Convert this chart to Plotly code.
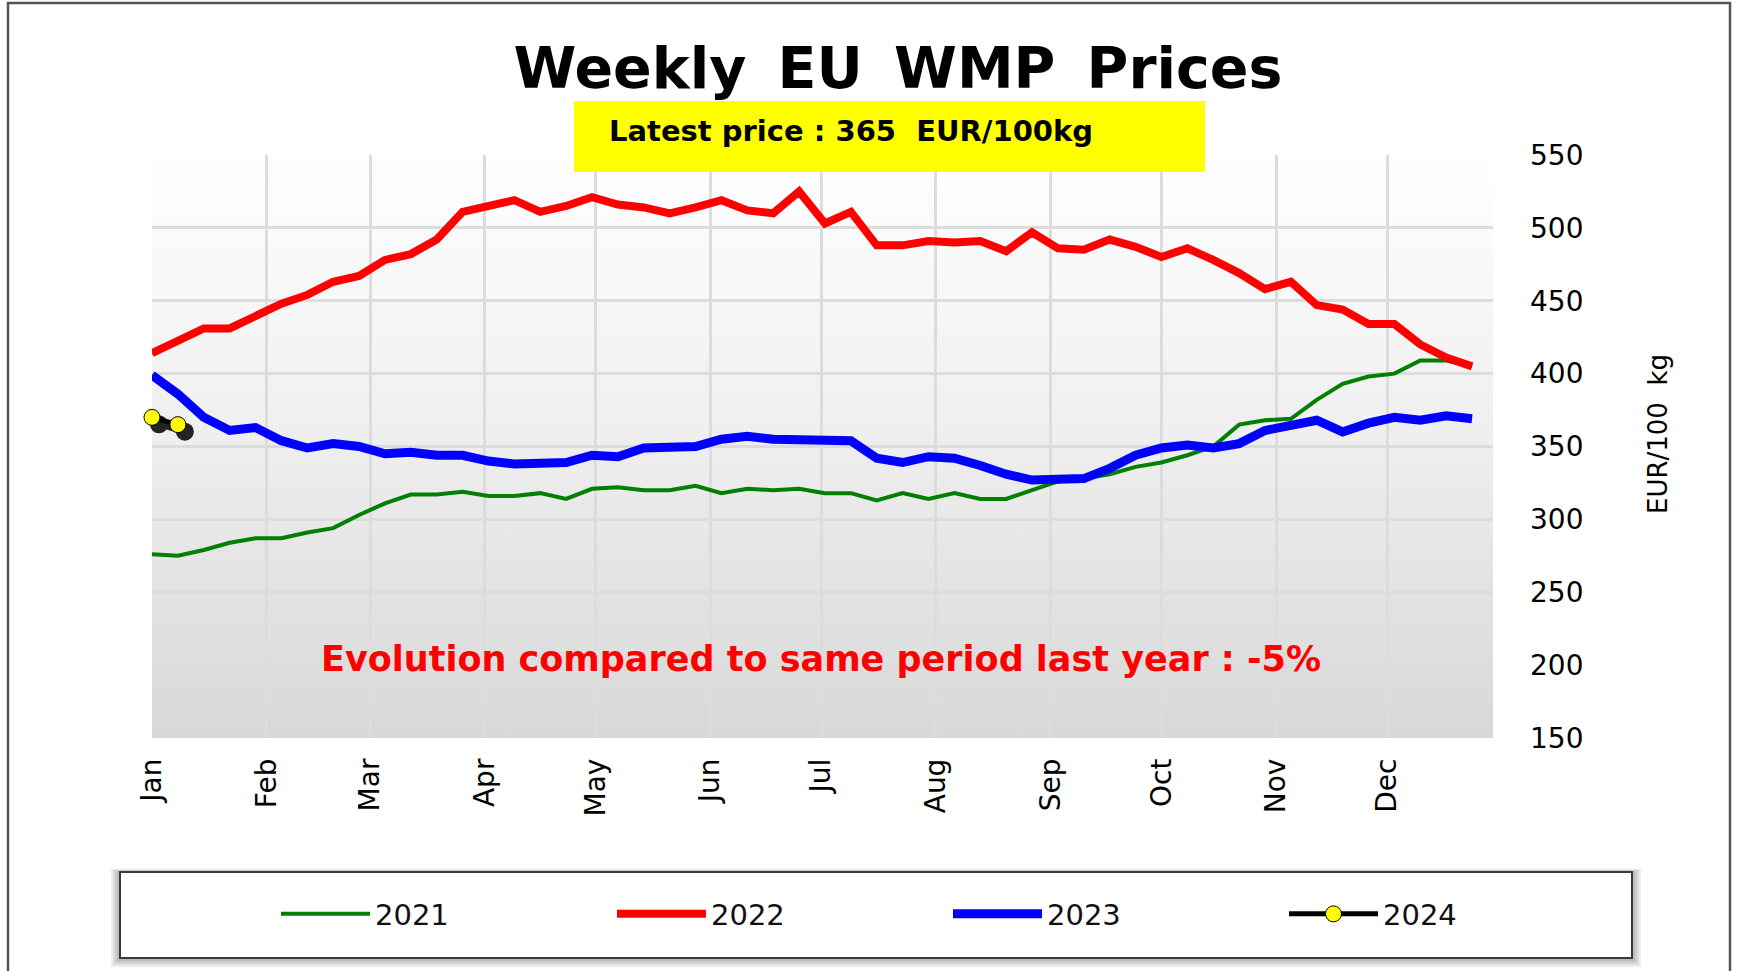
import base64
import pandas as pd
import plotly.graph_objects as go

# ---------------- data ----------------
month_labels = ["Jan", "Feb", "Mar", "Apr", "May", "Jun",
                "Jul", "Aug", "Sep", "Oct", "Nov", "Dec"]
first_week = "2023-01-01"
n_weeks = 52

prices_2021 = [276, 275, 279, 284, 287, 287, 291, 294, 303, 311, 317, 317, 319, 316,
               316, 318, 314, 321, 322, 320, 320, 323, 318, 321, 320, 321, 318,
               318, 313, 318, 314, 318, 314, 314, 320, 326, 328, 331, 336, 339, 344,
               350, 365, 368, 369, 382, 393, 398, 400, 409, 409, 405]
prices_2022 = [414, 423, 431, 431, 440, 448, 454, 463, 467, 478, 482, 492, 511, 515,
               519, 511, 515, 521, 516, 514, 510, 514, 519, 512, 510, 525, 503,
               511, 488, 488, 491, 490, 491, 484, 497, 486, 485, 492, 487, 480, 486,
               478, 469, 458, 463, 447, 444, 434, 434, 420, 411, 405]
prices_2023 = [399, 386, 370, 361, 363, 354, 349, 352, 350, 345, 346, 344, 344, 340,
               338, 338, 339, 344, 343, 349, 350, 350, 355, 357, 355, 355, 354,
               354, 342, 339, 343, 342, 337, 331, 327, 327, 328, 335, 344, 349, 351,
               349, 352, 361, 365, 368, 360, 366, 370, 368, 371, 369]
prices_2024 = [370, 365]

title_text = "Weekly\u2009 EU\u2009 WMP\u2009 Prices"
latest_text = "Latest price : 365\u00a0\u00a0EUR/100kg"
evolution_text = "Evolution compared to same period last year : -5%"
y_title = "EUR/100\u00a0\u00a0kg"

weeks = pd.date_range(first_week, periods=n_weeks, freq="7D")

# ---------------- geometry (pixels) ----------------
W, H = 1737, 971
L, R, T, B = 152, 244, 155, 233
plot_w = W - L - R
plot_h = H - T - B
px_per_day = 3.6976
y_min, y_max = 150, 550
px_per_unit = plot_h / (y_max - y_min)

x_start = pd.Timestamp(first_week)
x_end = x_start + pd.Timedelta(days=plot_w / px_per_day)


def fmt(ts):
    return ts.strftime("%Y-%m-%d %H:%M:%S")


def xp(px):
    return (px - L) / plot_w


def yp(py):
    return (H - B - py) / plot_h


# shadow offsets for the 2024 markers
sh_dx, sh_dy = 7, 7
sh_days = pd.Timedelta(days=sh_dx / px_per_day)
sh_units = sh_dy / px_per_unit

fig = go.Figure()

fig.add_trace(go.Scatter(x=weeks, y=prices_2021, name="2021", mode="lines",
                         line=dict(color="#008000", width=4)))
fig.add_trace(go.Scatter(x=weeks, y=prices_2022, name="2022", mode="lines",
                         line=dict(color="#ff0000", width=8)))
fig.add_trace(go.Scatter(x=weeks, y=prices_2023, name="2023", mode="lines",
                         line=dict(color="#0000ff", width=9)))
# shadow of 2024 (same data, offset axes)
fig.add_trace(go.Scatter(x=weeks[:len(prices_2024)], y=prices_2024, name="2024 shadow",
                         mode="lines+markers", showlegend=False, hoverinfo="skip",
                         xaxis="x2", yaxis="y2", opacity=0.85, cliponaxis=False,
                         line=dict(color="#000000", width=6),
                         marker=dict(color="#000000", size=18,
                                     line=dict(color="#000000", width=0))))
fig.add_trace(go.Scatter(x=weeks[:len(prices_2024)], y=prices_2024, name="2024",
                         mode="lines+markers", xaxis="x3", yaxis="y3", cliponaxis=False,
                         line=dict(color="#000000", width=5),
                         marker=dict(color="#ffff00", size=16,
                                     line=dict(color="#000000", width=1))))

grid = "#dcdcdc"
fig.update_layout(
    width=W, height=H,
    margin=dict(l=L, r=R, t=T, b=B, pad=0),
    paper_bgcolor="#ffffff",
    plot_bgcolor="rgba(0,0,0,0)",
    font=dict(family="DejaVu Sans", color="#000000"),
    title=dict(text="<b>" + title_text + "</b>", x=898 / W, y=1 - 68 / H,
               xanchor="center", yanchor="middle", xref="container", yref="container",
               font=dict(family="DejaVu Sans", size=57, color="#000000")),
    xaxis=dict(type="date", range=[fmt(x_start), fmt(x_end)],
               tick0=first_week, dtick="M1", tickformat="%b", tickangle=-90,
               showgrid=True, gridcolor=grid, gridwidth=2.5,
               zeroline=False, showline=False, ticks="",
               ticklabelstandoff=14,
               tickfont=dict(family="DejaVu Sans", size=28, color="#000000")),
    yaxis=dict(range=[y_min, y_max], side="right", dtick=50, tick0=150,
               showgrid=True, gridcolor=grid, gridwidth=2.5,
               zeroline=False, showline=False, ticks="",
               ticklabelstandoff=36,
               tickfont=dict(family="DejaVu Sans", size=28, color="#000000")),
    xaxis2=dict(type="date", overlaying="x", visible=False,
                range=[fmt(x_start - sh_days), fmt(x_end - sh_days)]),
    yaxis2=dict(overlaying="y", visible=False,
                range=[y_min + sh_units, y_max + sh_units]),
    xaxis3=dict(type="date", overlaying="x", visible=False,
                range=[fmt(x_start), fmt(x_end)]),
    yaxis3=dict(overlaying="y", visible=False, range=[y_min, y_max]),
    showlegend=True,
    legend=dict(orientation="h", xref="container", yref="container",
                x=276 / W, y=1 - 914 / H, xanchor="left", yanchor="middle",
                itemwidth=89, entrywidth=232, entrywidthmode="pixels",
                bgcolor="rgba(0,0,0,0)", borderwidth=0, traceorder="normal",
                font=dict(family="DejaVu Sans", size=29, color="#111111")),
    hovermode=False,
)

# gradient plot background
svg = ('<svg xmlns="http://www.w3.org/2000/svg" width="100" height="100" '
       'preserveAspectRatio="none"><defs><linearGradient id="g" x1="0" y1="0" '
       'x2="0" y2="1"><stop offset="0" stop-color="#ffffff"/>'
       '<stop offset="0.45" stop-color="#f0f0f0"/>'
       '<stop offset="1" stop-color="#d8d8d8"/></linearGradient></defs>'
       '<rect width="100" height="100" fill="url(#g)"/></svg>')
src = "data:image/svg+xml;base64," + base64.b64encode(svg.encode()).decode()
fig.add_layout_image(dict(source=src, xref="paper", yref="paper", x=0, y=1,
                          sizex=1, sizey=1, sizing="stretch", layer="below",
                          xanchor="left", yanchor="top"))

shapes = []
# outer frame
shapes.append(dict(type="rect", xref="paper", yref="paper",
                   x0=xp(8), x1=xp(1730), y0=yp(995), y1=yp(3),
                   line=dict(color="#555555", width=2.5), fillcolor="rgba(0,0,0,0)"))
# yellow box
shapes.append(dict(type="rect", xref="paper", yref="paper",
                   x0=xp(574), x1=xp(1205), y0=yp(172), y1=yp(101),
                   line=dict(width=0), fillcolor="#ffff00"))
# legend shadow
for k in (9, 7, 5, 3):
    shapes.append(dict(type="rect", xref="paper", yref="paper",
                       x0=xp(120 - k), x1=xp(1632 + k), y0=yp(958 + k), y1=yp(872 - k / 3),
                       line=dict(width=0), fillcolor="rgba(0,0,0,0.07)"))
# legend box
shapes.append(dict(type="rect", xref="paper", yref="paper",
                   x0=xp(120), x1=xp(1632), y0=yp(958), y1=yp(872),
                   line=dict(color="#3a3a3a", width=2), fillcolor="#ffffff"))
fig.update_layout(shapes=shapes)

fig.add_annotation(text="<b>" + latest_text + "</b>", xref="paper", yref="paper",
                   x=xp(607), y=yp(131), xanchor="left", yanchor="middle",
                   showarrow=False, font=dict(family="DejaVu Sans", size=29, color="#000000"))
fig.add_annotation(text="<b>" + evolution_text + "</b>", xref="paper", yref="paper",
                   x=xp(821), y=yp(659), xanchor="center", yanchor="middle",
                   showarrow=False, font=dict(family="DejaVu Sans", size=35, color="#ff0000"))
fig.add_annotation(text=y_title, xref="paper", yref="paper",
                   x=xp(1658), y=yp(434), xanchor="center", yanchor="middle",
                   textangle=-90, showarrow=False,
                   font=dict(family="DejaVu Sans", size=26, color="#000000"))

fig.write_html("out.html", config={"displayModeBar": False},
               post_script="document.body.style.margin='0';document.body.style.overflow='hidden';")
